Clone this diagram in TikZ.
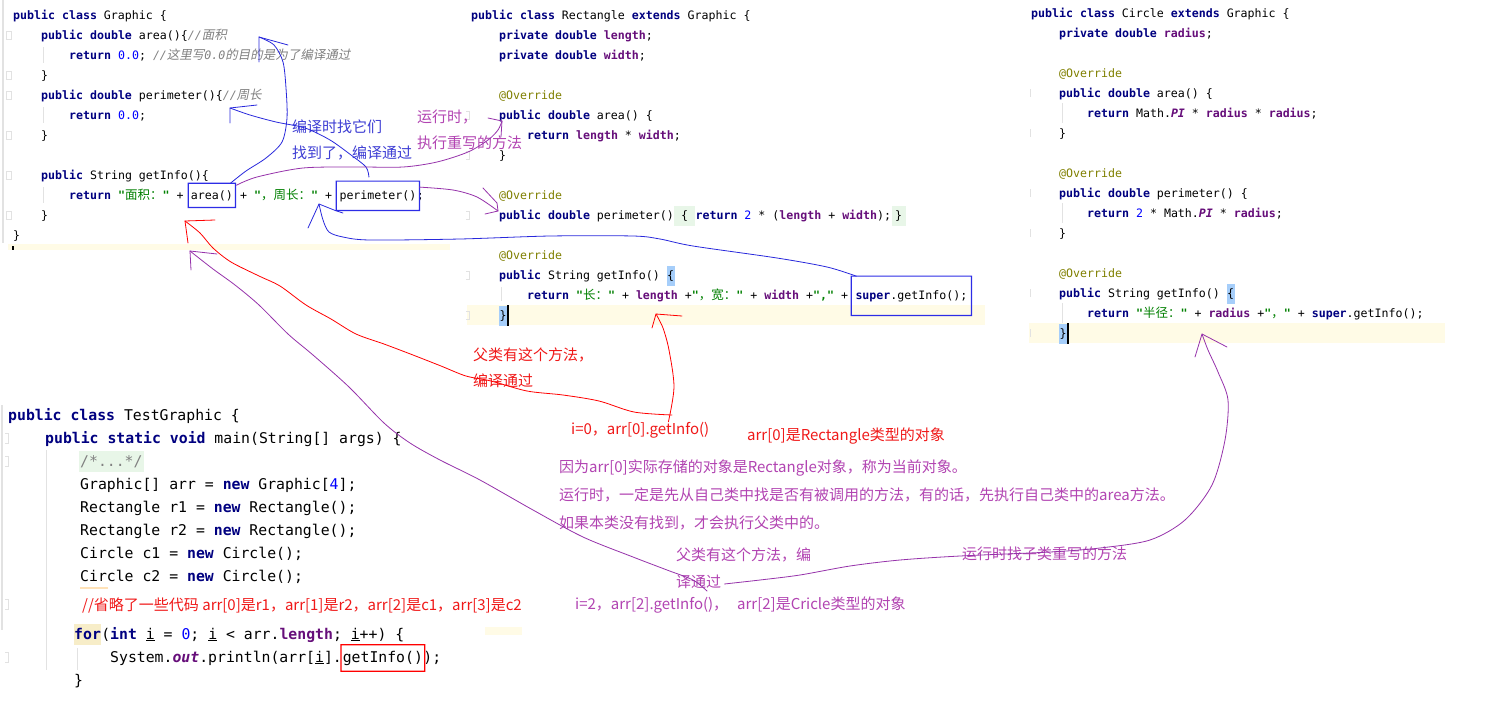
\documentclass[tikz,border=0pt]{standalone}
\usepackage{fontspec}
\setmonofont{DejaVu Sans Mono}
\newfontfamily\cjk{Noto Sans CJK SC}
\newfontfamily\cjkit[FakeSlant=0.2]{Noto Sans CJK SC}
\definecolor{kwc}{RGB}{0,0,128}
\definecolor{fldc}{RGB}{102,14,122}
\definecolor{numc}{RGB}{0,0,255}
\definecolor{strc}{RGB}{0,128,0}
\definecolor{cmc}{RGB}{128,128,128}
\definecolor{annc}{RGB}{128,128,0}
\definecolor{hlc}{RGB}{255,251,230}
\definecolor{forbg}{RGB}{247,237,200}
\definecolor{gbgc}{RGB}{232,246,232}
\definecolor{bbgc}{RGB}{166,206,250}
\definecolor{gutc}{RGB}{226,226,226}
\definecolor{bluepc}{RGB}{40,40,220}
\definecolor{boxbc}{RGB}{45,45,230}
\definecolor{bluetc}{RGB}{62,62,212}
\definecolor{purpc}{RGB}{150,50,170}
\definecolor{purtc}{RGB}{178,68,178}
\definecolor{redpc}{RGB}{255,0,0}
\definecolor{redtc}{RGB}{240,25,25}
\newcommand\jkw[1]{{\color{kwc}\bfseries #1}}
\newcommand\jfl[1]{{\color{fldc}\bfseries #1}}
\newcommand\jsf[1]{{\color{fldc}\bfseries\itshape #1}}
\newcommand\jnum[1]{{\color{numc}#1}}
\newcommand\jstr[1]{{\color{strc}\bfseries #1}}
\newcommand\jcm[1]{{\color{cmc}\itshape #1}}
\newcommand\jann[1]{{\color{annc}#1}}
\newcommand\zh[1]{{\fontsize{12.5}{14}\cjk\mdseries #1}}
\newcommand\zhi[1]{{\fontsize{12.5}{14}\cjkit\mdseries #1}}
\newcommand\cfont{\fontsize{11.6}{14}\ttfamily}
\newcommand\tfont{\fontsize{14.8}{18}\ttfamily}
\newcommand\afont{\fontsize{15}{18}\cjk}
\begin{document}
\begin{tikzpicture}[x=1pt,y=-1pt,
  code/.style={anchor=base west, inner sep=0pt, font=\cfont},
  tcode/.style={anchor=base west, inner sep=0pt, font=\tfont},
  ann/.style={anchor=west, inner sep=0pt, font=\afont},
  cbox/.style={anchor=base west, inner ysep=0pt},
  bgbrace/.style={anchor=base west, inner xsep=0.5pt, inner ysep=2.5pt, text height=11pt, text depth=4pt, font=\cfont},
  pen/.style={line width=0.8pt, line join=round, line cap=round},
  guide/.style={gutc, line width=0.8pt}]
\useasboundingbox[fill=white] (0,0) rectangle (1500,713);
% ---------- backgrounds
\fill[hlc] (8,244) rectangle (450,250);
\fill[hlc] (467,305) rectangle (985,325);
\fill[hlc] (1029,323) rectangle (1445,343);
\fill[hlc] (485,627) rectangle (522,635);
\fill (12,246) rectangle (14,250);
\draw[gutc, line width=1.6pt] (3,0) -- (3,243);
\draw[gutc, line width=1.6pt] (2,405) -- (2,630);
\foreach \yy in {35,75,95,135,175,215} \draw[gutc, line width=0.8pt] (6,\yy-4) rectangle (11,\yy+4);
\foreach \yy in {115,155,215,275,315} \draw[gutc, line width=0.8pt] (466,\yy-4) -- (469,\yy-4) -- (469,\yy+4) -- (466,\yy+4);
\foreach \yy in {93,133,193,233,293,333} \draw[gutc, line width=0.8pt] (1030,\yy-4) -- (1030,\yy+4);
\foreach \yy in {438,461,604,657} \draw[gutc, line width=0.8pt] (5,\yy-5) -- (8,\yy-5) -- (8,\yy+5) -- (5,\yy+5);
\draw[guide] (43,47) -- (43,63);
\draw[guide] (43,107) -- (43,123);
\draw[guide] (43,187) -- (43,203);
\draw[guide] (501,287) -- (501,301);
\draw[guide] (1062,103) -- (1062,123);
\draw[guide] (1062,203) -- (1062,223);
\draw[guide] (1062,303) -- (1062,323);
\draw[guide] (46,450) -- (46,670);
\draw[guide] (77,648) -- (77,670);
\draw[line width=1.2pt, color=hlc!80!orange] (80,588) -- (108,588);
% ---------- class Graphic
\node[code] (g1) at (13,19) {\jkw{public class} Graphic \{};
\node[code] (g2) at (41,39) {\jkw{public double} area()\{\jcm{//\zhi{面积}}};
\node[code] (g3) at (69,59) {\jkw{return} \jnum{0.0}; \jcm{//\zhi{这里写}0.0\zhi{的目的是为了编译通过}}};
\node[code] (g4) at (41,79) {\}};
\node[code] (g5) at (41,99) {\jkw{public double} perimeter()\{\jcm{//\zhi{周长}}};
\node[code] (g6) at (69,119) {\jkw{return} \jnum{0.0};};
\node[code] (g7) at (41,139) {\}};
\node[code] (g8) at (41,179) {\jkw{public} String getInfo()\{};
\node[code] (g9a) at (69,199) {\jkw{return} \jstr{"\zh{面积：}"} +};
\node[cbox, inner xsep=2.5pt, minimum height=24pt, font=\cfont] (area) at ([xshift=4.5pt]g9a.base east) {area()};
\node[code] (g9b) at ([xshift=4.5pt]area.base east) {+ \jstr{"\zh{，周长：}"} +};
\node[cbox, inner xsep=3pt, minimum height=29pt, font=\cfont] (perim) at ([xshift=4pt]g9b.base east) {perimeter()};
\node[code] (g9c) at ([xshift=-3pt]perim.base east) {;};
\node[code] (g10) at (41,219) {\}};
\node[code] (g11) at (13,239) {\}};
% ---------- class Rectangle
\node[code] (r1) at (471,19) {\jkw{public class} Rectangle \jkw{extends} Graphic \{};
\node[code] (r2) at (499,39) {\jkw{private double} \jfl{length};};
\node[code] (r3) at (499,59) {\jkw{private double} \jfl{width};};
\node[code] (r5) at (499,99) {\jann{@Override}};
\node[code] (r6) at (499,119) {\jkw{public double} area() \{};
\node[code] (r7) at (527,139) {\jkw{return} \jfl{length} * \jfl{width};};
\node[code] (r8) at (499,159) {\}};
\node[code] (r10) at (499,199) {\jann{@Override}};
\node[code] (r11a) at (499,219) {\jkw{public double} perimeter()};
\node[bgbrace, fill=gbgc, inner xsep=0pt, minimum width=21pt] (r11b) at (r11a.base east) {\{};
\node[code] (r11c) at (r11b.base east) {\jkw{return} \jnum{2} * (\jfl{length} + \jfl{width});};
\node[bgbrace, fill=gbgc, inner xsep=0pt, minimum width=14pt] (r11d) at (r11c.base east) {\}};
\node[code] (r13) at (499,259) {\jann{@Override}};
\node[code] (r14a) at (499,279) {\jkw{public} String getInfo()};
\node[bgbrace, fill=bbgc] (r14b) at ([xshift=6.5pt]r14a.base east) {\{};
\node[code] (r15a) at (527,299) {\jkw{return} \jstr{"\zh{长：}"} + \jfl{length} +\jstr{"\zh{，宽：}"} + \jfl{width} +\jstr{","} +};
\node[cbox, inner xsep=4pt, minimum height=39pt, font=\cfont] (sgbox) at ([xshift=3pt]r15a.base east) {\jkw{super}.getInfo();};
\node[bgbrace, fill=bbgc] (r16) at (499,319) {\}};
\draw[line width=1.3pt] ([xshift=0.6pt]r16.south east) -- ([xshift=0.6pt]r16.north east);
% ---------- class Circle
\node[code] (c1) at (1031,17) {\jkw{public class} Circle \jkw{extends} Graphic \{};
\node[code] (c2) at (1059,37) {\jkw{private double} \jfl{radius};};
\node[code] (c4) at (1059,77) {\jann{@Override}};
\node[code] (c5) at (1059,97) {\jkw{public double} area() \{};
\node[code] (c6) at (1087,117) {\jkw{return} Math.\jsf{PI} * \jfl{radius} * \jfl{radius};};
\node[code] (c7) at (1059,137) {\}};
\node[code] (c9) at (1059,177) {\jann{@Override}};
\node[code] (c10) at (1059,197) {\jkw{public double} perimeter() \{};
\node[code] (c11) at (1087,217) {\jkw{return} \jnum{2} * Math.\jsf{PI} * \jfl{radius};};
\node[code] (c12) at (1059,237) {\}};
\node[code] (c14) at (1059,277) {\jann{@Override}};
\node[code] (c15a) at (1059,297) {\jkw{public} String getInfo()};
\node[bgbrace, fill=bbgc] (c15b) at ([xshift=6.5pt]c15a.base east) {\{};
\node[code] (c16) at (1087,317) {\jkw{return} \jstr{"\zh{半径：}"} + \jfl{radius} +\jstr{"\zh{，}"} + \jkw{super}.getInfo();};
\node[bgbrace, fill=bbgc] (c17) at (1059,337) {\}};
\draw[line width=1.3pt] ([xshift=0.6pt]c17.south east) -- ([xshift=0.6pt]c17.north east);
% ---------- class TestGraphic
\node[tcode] (t1) at (8,420) {\jkw{public class} TestGraphic \{};
\node[tcode] (t2) at (45,443) {\jkw{public static void} main(String[] args) \{};
\node[tcode, fill=gbgc, inner xsep=1.5pt, inner ysep=2pt, text height=13pt, text depth=4pt] (t3) at (78.5,466) {{\color{cmc}/*...*/}};
\node[tcode] (t4) at (80,489) {Graphic[] arr = \jkw{new} Graphic[\jnum{4}];};
\node[tcode] (t5) at (80,512) {Rectangle r1 = \jkw{new} Rectangle();};
\node[tcode] (t6) at (80,535) {Rectangle r2 = \jkw{new} Rectangle();};
\node[tcode] (t7) at (80,558) {Circle c1 = \jkw{new} Circle();};
\node[tcode] (t8) at (80,581) {Circle c2 = \jkw{new} Circle();};
\node[ann, text=redtc] (t9) at (82,606) {//省略了一些代码 arr[0]是r1，arr[1]是r2，arr[2]是c1，arr[3]是c2};
\node[tcode, fill=forbg, inner ysep=2pt, text height=13pt, text depth=4pt] (t10a) at (74,639) {\jkw{for}};
\node[tcode] (t10b) at (t10a.base east) {(\jkw{int} \underline{i} = \jnum{0}; \underline{i} < arr.\jfl{length}; \underline{i}++) \{};
\node[tcode] (t11a) at (110,662) {System.\jsf{out}.println(arr[\underline{i}].};
\node[cbox, inner xsep=1.5pt, minimum height=26pt, font=\tfont] (gibox) at ([xshift=-1pt]t11a.base east) {getInfo()};
\node[tcode] (t11b) at ([xshift=-1.5pt]gibox.base east) {);};
\node[tcode] (t12) at (74,685) {\}};
% ---------- annotations
\node[ann, text=bluetc] (bt1) at (292,127) {编译时找它们};
\node[ann, text=bluetc] (bt2) at (292,153) {找到了，编译通过};
\node[ann, text=purtc] (pt1) at (417,117) {运行时，};
\node[ann, text=purtc] (pt2) at (417,143) {执行重写的方法};
\node[ann, text=redtc] (rt1) at (473,355) {父类有这个方法，};
\node[ann, text=redtc] (rt2) at (473,381) {编译通过};
\node[ann, text=redtc] (rt3) at (571,430) {i=0，arr[0].getInfo()};
\node[ann, text=redtc] (rt4) at (747,436) {arr[0]是Rectangle类型的对象};
\node[ann, text=purtc] (p3) at (559,468) {因为arr[0]实际存储的对象是Rectangle对象，称为当前对象。};
\node[ann, text=purtc] (p4) at (559,495) {运行时，一定是先从自己类中找是否有被调用的方法，有的话，先执行自己类中的area方法。};
\node[ann, text=purtc] (p5) at (559,523) {如果本类没有找到，才会执行父类中的。};
\node[ann, text=purtc] (p6) at (676,555) {父类有这个方法，编};
\node[ann, text=purtc] (p7) at (676,582) {译通过};
\node[ann, text=purtc] (p8) at (962,554) {运行时找子类重写的方法};
\node[ann, text=purtc] (p9) at (575,605) {i=2，arr[2].getInfo()，\hspace{9pt}arr[2]是Cricle类型的对象};
% ---------- boxes round the calls (drawn as filled frames)
\foreach \bx/\bc in {area/boxbc, perim/boxbc, sgbox/boxbc, gibox/redpc}
  \fill[\bc, even odd rule] ([shift={(-0.6,0.6)}]\bx.south west) rectangle ([shift={(0.6,-0.6)}]\bx.north east)
                             ([shift={(0.6,-0.6)}]\bx.south west) rectangle ([shift={(-0.6,0.6)}]\bx.north east);
% ---------- hand-drawn connectors
% blue: area() -> declaration of area
\coordinate (tA) at (259,37);
\draw[pen, bluepc] plot[smooth] coordinates {([xshift=-5pt]area.north east) (246,171) (266,158) (282,142) (287,118) (286,88) (283,62) (274,45) (tA)};
\draw[pen, bluepc] (288,45) -- (tA) -- (259,62);
% blue: perimeter() -> declaration of perimeter
\coordinate (tB) at (230,108);
\draw[pen, bluepc] plot[smooth] coordinates {([xshift=-9pt,yshift=4pt]perim.north) (366,167) (351,155) (330,140) (305,128) (276,122) (250,115) (tB)};
\draw[pen, bluepc] (257,105) -- (tB) -- (230,123);
% blue: super.getInfo() -> Graphic getInfo
\coordinate (tC) at (319,204);
\draw[pen, bluepc] plot[smooth] coordinates {([xshift=5pt]sgbox.north west) (827,267) (777,258) (693,246) (660,239) (633,236) (550,236) (460,239) (370,240) (343,237) (329,232) (323,220) (tC)};
\draw[pen, bluepc] (308,228) -- (tC) -- (334,210) -- (343,213);
% purple: area() -> Rectangle area
\coordinate (tD) at (502,121);
\draw[pen, purpc] plot[smooth] coordinates {([xshift=1pt,yshift=-2pt]area.north east) (257,177) (303,168) (357,167) (403,167) (437,162) (468,152) (488,140) (498,130) (tD)};
\draw[pen, purpc] (488,118) -- (tD) -- (501,137);
% purple: perimeter() -> Rectangle perimeter
\coordinate (tE) at (498,211);
\draw[pen, purpc] plot[smooth] coordinates {([yshift=-6pt]perim.north east) (453,190) (477,197) (tE)};
\draw[pen, purpc] (483,188) -- (497,203) -- (tE) -- (485,214);
% red: i=0 call -> Graphic getInfo (area)
\coordinate (tF) at (185,221);
\coordinate (eF) at (672,415);
\draw[pen, redpc] plot[smooth] coordinates {(tF) (200,233) (213,248) (231,262) (259,276) (280,286) (306,305) (331,319) (356,334) (384,344) (413,355) (441,366) (466,376) (491,381) (527,391) (563,395) (599,401) (634,412) (eF)};
\draw[pen, redpc] (215,220) -- (tF) -- (188,243);
% red: i=0 -> Rectangle getInfo
\coordinate (tG) at (656,314);
\draw[pen, redpc] plot[smooth] coordinates {([xshift=-41pt]rt3.north east) (674,387) (669,350) (663,328) (tG)};
\draw[pen, redpc] (682,316) -- (tG) -- (652,328);
% purple: Graphic getInfo -> 译通过
\coordinate (tH) at (190,251);
\draw[pen, purpc] plot[smooth] coordinates {(tH) (213,269) (235,285) (259,305) (288,334) (313,355) (349,387) (384,423) (410,443) (440,460) (480,480) (533,510) (583,537) (633,557) (667,570) (693,580) (707,591)};
\draw[pen, purpc] (217,254) -- (tH) -- (191,270);
% purple: 译通过 -> Circle getInfo
\coordinate (tI) at (1202,334);
\draw[pen, purpc] plot[smooth] coordinates {([xshift=3pt,yshift=-2pt]p7.east) (760,580) (800,575) (850,566) (900,560) (960,556) (1050,552) (1100,548) (1150,540) (1185,520) (1212,485) (1225,440) (1228,400) (1218,372) (1208,350) (tI)};
\draw[pen, purpc] (1195,357) -- (tI) -- (1227,347);
\end{tikzpicture}
\end{document}
